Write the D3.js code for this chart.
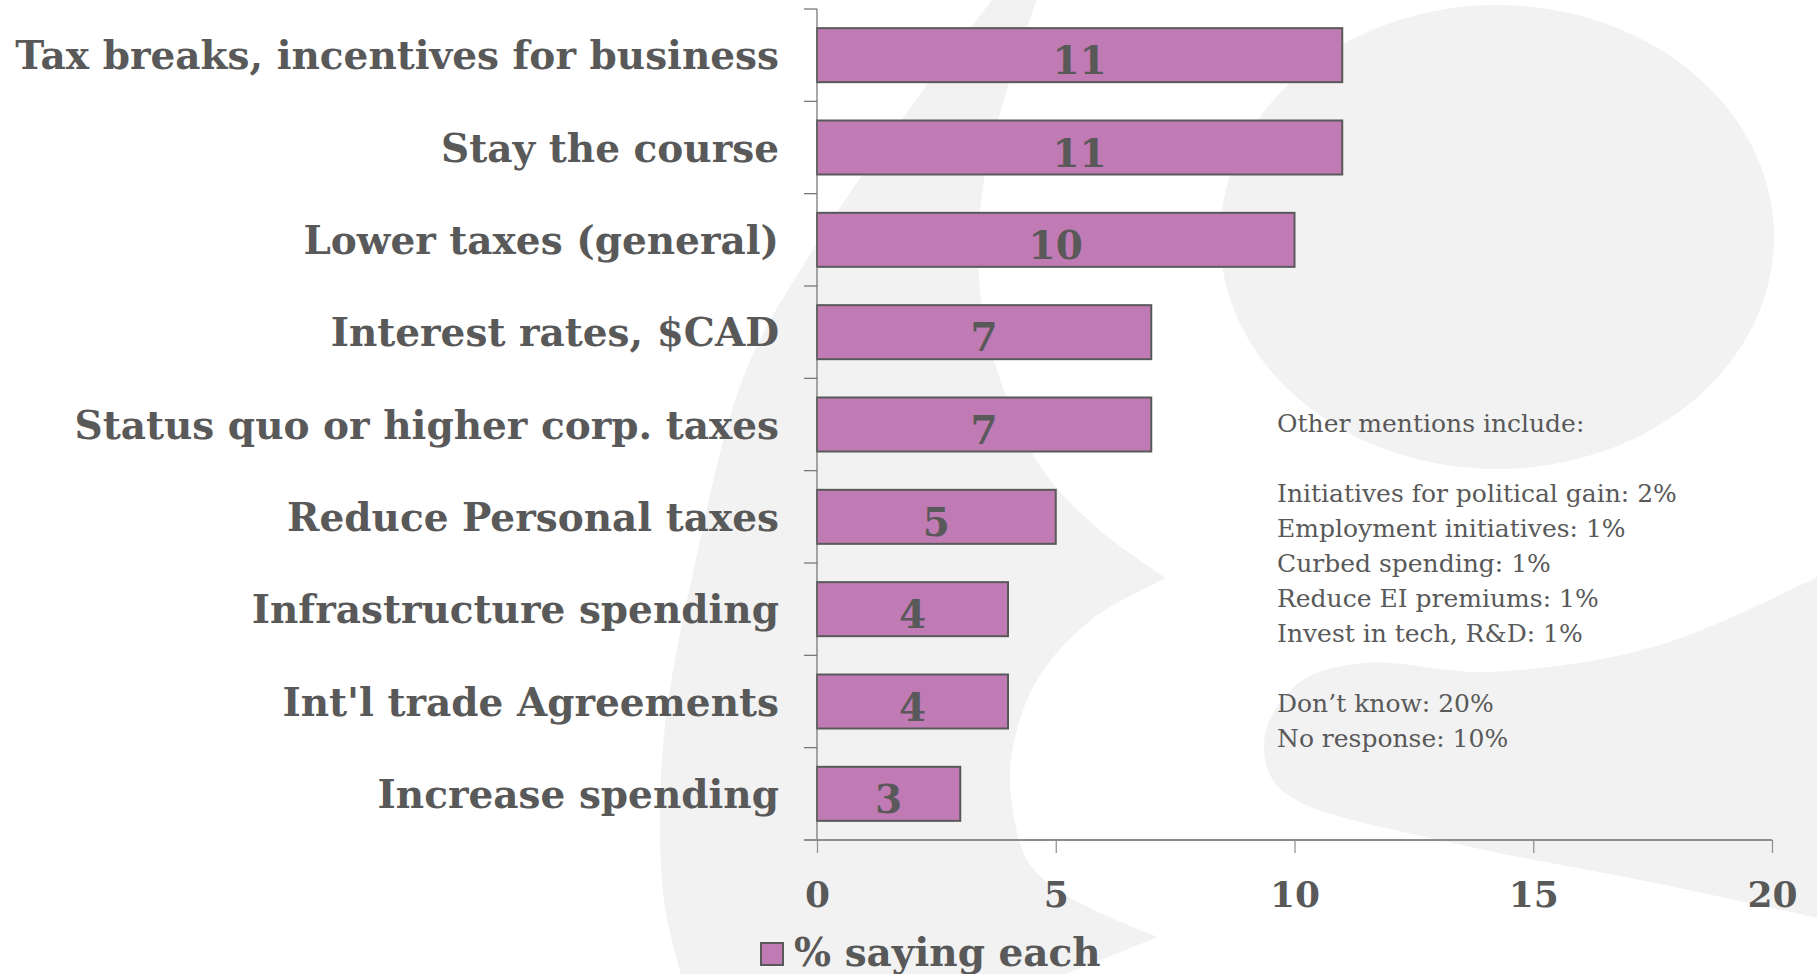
<!DOCTYPE html>
<html>
<head>
<meta charset="utf-8">
<script src="https://cdn.jsdelivr.net/npm/d3@7"></script>
<style>
  html, body { margin: 0; padding: 0; background: #ffffff; }
  svg { display: block; }
</style>
</head>
<body>
<svg id="chart" width="1817" height="974"></svg>
<script>
// ---- data ----
const categories = [
  "Tax breaks, incentives for business",
  "Stay the course",
  "Lower taxes (general)",
  "Interest rates, $CAD",
  "Status quo or higher corp. taxes",
  "Reduce Personal taxes",
  "Infrastructure spending",
  "Int'l trade Agreements",
  "Increase spending"
];
const values = [11, 11, 10, 7, 7, 5, 4, 4, 3];
const xTicks = [0, 5, 10, 15, 20];
const seriesName = "% saying each";
const otherMentions = [
  "Other mentions include:",
  "",
  "Initiatives for political gain: 2%",
  "Employment initiatives: 1%",
  "Curbed spending: 1%",
  "Reduce EI premiums: 1%",
  "Invest in tech, R&D: 1%",
  "",
  "Don\u2019t know: 20%",
  "No response: 10%"
];

// ---- styling ----
const textColor = "#595959";
const barFill = "#c07bb4";
const barStroke = "#595959";
const shapeFill = "#f2f2f2";
const boldSerif = "'DejaVu Serif', Georgia, serif";

const svg = d3.select("#chart");

// ---- decorative background logo ----
const deco = svg.append("g").attr("class", "backdrop");
const smooth = d3.line().curve(d3.curveCatmullRom.alpha(0.5));

deco.append("ellipse")
  .attr("cx", 1497).attr("cy", 237)
  .attr("rx", 277).attr("ry", 232)
  .attr("fill", shapeFill);

// crescent: outer edge, bottom tail spike, inner edge with the middle point
const crescentOuter = [[1000, -10], [921, 93], [814, 248], [745, 373], [696, 559], [663, 745], [664, 900], [684, 984]];
const crescentTail = [[1040, 984], [1158, 937]];
const crescentInnerLow = [[1158, 937], [1069, 897], [1029, 863], [1011, 797], [1013, 747], [1037, 680], [1091, 620], [1166, 578]];
const crescentInnerHigh = [[1166, 578], [1097, 528], [1040, 466], [998, 373], [979, 280], [983, 186], [1006, 93], [1040, -10]];
const crescentPath =
  smooth(crescentOuter) +
  "L" + crescentTail.map(p => p.join(",")).join("L") +
  smooth(crescentInnerLow).replace(/^M/, "L") +
  smooth(crescentInnerHigh).replace(/^M/, "L") + "Z";
deco.append("path").attr("d", crescentPath).attr("fill", shapeFill);

// swoosh across the lower right
const swooshTop = [[1827, 572], [1660, 645], [1490, 672], [1363, 663], [1300, 682], [1266, 730], [1270, 775], [1298, 801], [1448, 842], [1660, 884], [1827, 920]];
deco.append("path").attr("d", smooth(swooshTop) + "Z").attr("fill", shapeFill);

// ---- scales ----
const plot = { left: 817, right: 1772, top: 9, bottom: 840 };
const x = d3.scaleLinear().domain([0, 20]).range([plot.left, plot.right]);
const pad = 0.415;
const y = d3.scaleBand().domain(categories)
  .range([plot.top, plot.bottom])
  .paddingInner(pad).paddingOuter(pad / 2);

// ---- bars ----
const barG = svg.append("g");
barG.selectAll("rect").data(categories).join("rect")
  .attr("x", x(0))
  .attr("y", d => y(d))
  .attr("width", (d, i) => x(values[i]) - x(0))
  .attr("height", y.bandwidth())
  .attr("fill", barFill)
  .attr("stroke", barStroke)
  .attr("stroke-width", 2);

barG.selectAll("text").data(categories).join("text")
  .attr("x", (d, i) => (x(0) + x(values[i])) / 2)
  .attr("y", d => y(d) + y.bandwidth() / 2 + 19)
  .attr("text-anchor", "middle")
  .attr("font-family", boldSerif)
  .attr("font-weight", "bold")
  .attr("font-size", 39)
  .attr("fill", textColor)
  .text((d, i) => values[i]);

// ---- y axis: line, boundary ticks, category labels ----
const yAxisG = svg.append("g");
yAxisG.append("line")
  .attr("x1", plot.left).attr("x2", plot.left)
  .attr("y1", plot.top).attr("y2", plot.bottom)
  .attr("stroke", "#6f6f6f").attr("stroke-width", 1.2);
const bounds = d3.range(categories.length + 1).map(i => plot.top + i * y.step());
yAxisG.selectAll("line.bound").data(bounds).join("line")
  .attr("class", "bound")
  .attr("x1", plot.left - 13).attr("x2", plot.left)
  .attr("y1", d => d).attr("y2", d => d)
  .attr("stroke", "#6f6f6f").attr("stroke-width", 1.2);

const labelAxis = d3.axisLeft(y).tickSize(0).tickPadding(38);
const labelG = svg.append("g").attr("transform", `translate(${plot.left},0)`).call(labelAxis);
labelG.select(".domain").remove();
labelG.selectAll("text")
  .attr("dy", null)
  .attr("y", 14)
  .attr("font-family", boldSerif)
  .attr("font-weight", "bold")
  .attr("font-size", 39)
  .attr("fill", textColor);

// ---- x axis ----
const xAxis = d3.axisBottom(x).tickValues(xTicks).tickSize(13).tickPadding(0).tickFormat(d3.format("d"));
const xG = svg.append("g").attr("transform", `translate(0,${plot.bottom})`).call(xAxis);
xG.select(".domain").remove();
xG.append("line")
  .attr("x1", plot.left - 13).attr("x2", plot.right)
  .attr("y1", 0).attr("y2", 0)
  .attr("stroke", "#8c8c8c").attr("stroke-width", 2);
xG.selectAll(".tick line").attr("stroke", "#8c8c8c").attr("stroke-width", 1.2);
xG.selectAll(".tick text")
  .attr("dy", null)
  .attr("y", 67)
  .attr("font-family", boldSerif)
  .attr("font-weight", "bold")
  .attr("font-size", 36)
  .attr("fill", textColor);

// ---- legend ----
const legend = svg.append("g").attr("transform", "translate(761,943)");
legend.append("rect")
  .attr("width", 22).attr("height", 22)
  .attr("fill", barFill).attr("stroke", barStroke).attr("stroke-width", 2);
legend.append("text")
  .attr("x", 33).attr("y", 23)
  .attr("font-family", boldSerif)
  .attr("font-weight", "bold")
  .attr("font-size", 39)
  .attr("fill", textColor)
  .text(seriesName);

// ---- other mentions note ----
const note = svg.append("text")
  .attr("x", 1277).attr("y", 432)
  .attr("font-family", "'DejaVu Serif', Georgia, serif")
  .attr("font-size", 25)
  .attr("fill", textColor);
note.selectAll("tspan").data(otherMentions).join("tspan")
  .attr("x", 1277)
  .attr("y", (d, i) => 432 + i * 35)
  .text(d => d);
</script>
</body>
</html>
